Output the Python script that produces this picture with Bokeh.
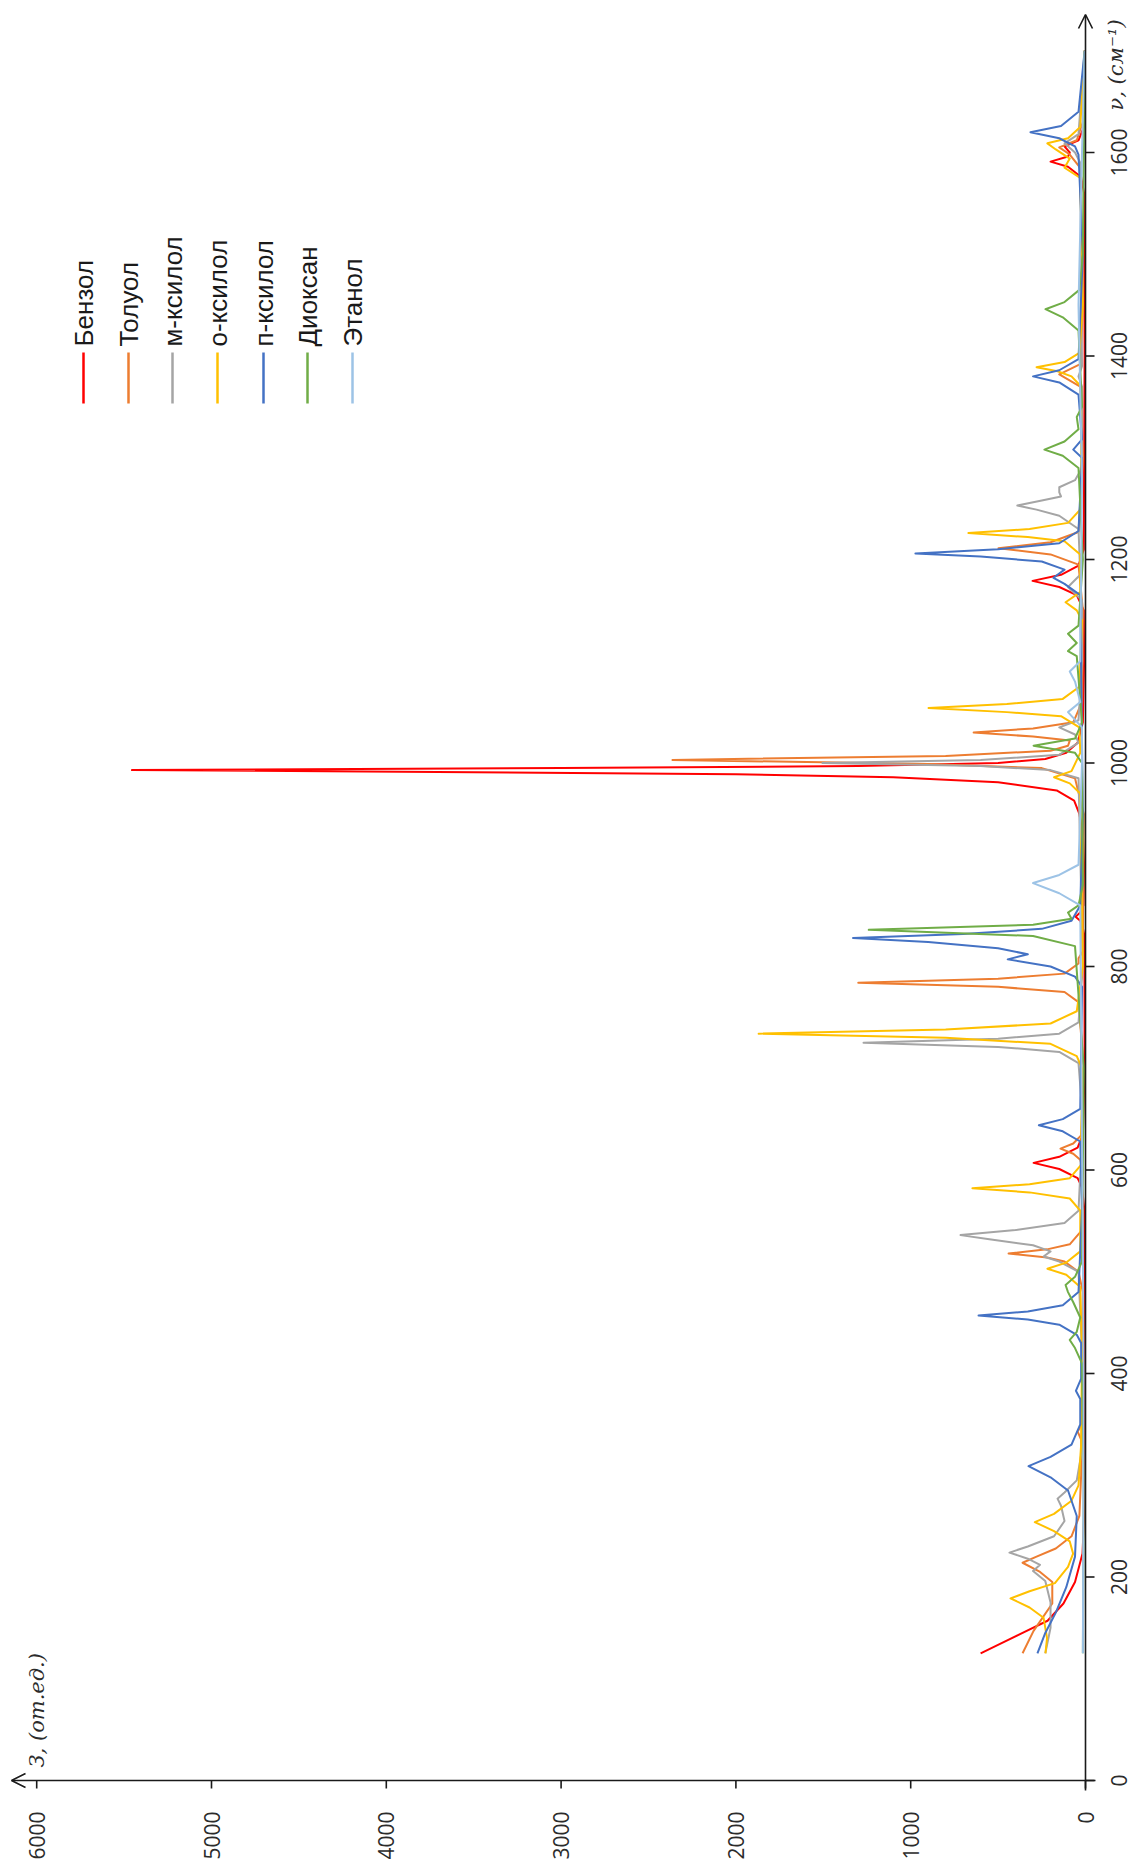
import math
from bokeh.plotting import figure
from bokeh.models import Range1d, Arrow, OpenHead
from bokeh.core.properties import value
from bokeh.embed import file_html
from bokeh.resources import INLINE

# Raman spectra: (wavenumber cm^-1, intensity a.u.) vertices per solvent
BENZOL = [(125, 600), (135, 480), (145, 360), (157, 217), (174, 126), (195, 60), (223, 17), (260, 8),
          (400, 5), (560, 6), (583, 20), (592, 45), (601, 150), (607, 297), (613, 150), (622, 45),
          (635, 15), (700, 5), (830, 6), (838, 15), (845, 30), (849, 57), (853, 30), (860, 12),
          (900, 8), (930, 15), (950, 35), (963, 65), (973, 165), (981, 500), (986, 1100), (989, 2000),
          (991, 3500), (993, 5455), (995, 3000), (997, 1300), (1000, 500), (1004, 230), (1010, 110),
          (1020, 45), (1040, 15), (1100, 8), (1150, 10), (1165, 50), (1173, 150), (1179, 303),
          (1185, 140), (1194, 40), (1210, 10), (1400, 5), (1560, 8), (1576, 25), (1586, 100),
          (1591, 200), (1596, 100), (1600, 90), (1606, 120), (1612, 40), (1625, 10), (1700, 5)]

TOLUOL = [(125, 360), (147, 297), (174, 190), (195, 190), (205, 260), (214, 360), (220, 280), (228, 170),
          (240, 80), (260, 35), (300, 25), (335, 25), (343, 45), (350, 20), (480, 15), (500, 40),
          (510, 120), (514, 220), (518, 440), (522, 220), (527, 90), (540, 25), (600, 15), (610, 30),
          (616, 70), (621, 143), (626, 70), (634, 25), (700, 10), (765, 40), (775, 120), (780, 500),
          (784, 1300), (788, 500), (793, 120), (803, 40), (808, 40), (815, 15), (950, 10), (985, 60),
          (995, 250), (999, 900), (1003, 2363), (1007, 800), (1012, 200), (1017, 100), (1022, 90),
          (1026, 300), (1030, 640), (1034, 300), (1040, 70), (1060, 20), (1150, 15), (1195, 40),
          (1205, 200), (1211, 498), (1217, 200), (1227, 40), (1300, 15), (1370, 30), (1382, 150),
          (1392, 30), (1450, 15), (1585, 30), (1598, 90), (1605, 150), (1612, 50), (1630, 15), (1700, 5)]

M_KSILOL = [(125, 230), (150, 200), (175, 200), (196, 230), (206, 300), (212, 260), (218, 330), (224, 435),
            (230, 330), (240, 180), (255, 120), (270, 140), (277, 160), (283, 120), (295, 50), (320, 25),
            (400, 15), (500, 40), (510, 150), (515, 240), (520, 200), (526, 300), (532, 550), (536, 715),
            (541, 400), (548, 120), (560, 40), (650, 15), (705, 40), (716, 150), (721, 500), (725, 1270),
            (729, 500), (734, 150), (745, 40), (800, 15), (985, 40), (993, 200), (997, 600), (1000, 1505),
            (1003, 600), (1008, 150), (1020, 40), (1028, 60), (1035, 150), (1042, 40), (1100, 20),
            (1160, 20), (1173, 100), (1185, 30), (1230, 40), (1243, 150), (1249, 280), (1253, 390),
            (1258, 250), (1262, 140), (1266, 150), (1271, 150), (1278, 60), (1290, 20), (1370, 20),
            (1380, 40), (1390, 20), (1590, 30), (1600, 60), (1609, 120), (1618, 40), (1700, 5)]

O_KSILOL = [(125, 229), (140, 220), (160, 240), (170, 320), (179, 429), (186, 320), (194, 175), (210, 100),
            (223, 71), (235, 90), (245, 180), (254, 290), (262, 180), (275, 80), (290, 40), (330, 25),
            (420, 20), (485, 30), (497, 110), (503, 218), (509, 110), (520, 30), (560, 30), (572, 90),
            (578, 320), (582, 647), (586, 320), (592, 90), (605, 25), (700, 20), (712, 50), (724, 200),
            (730, 800), (734, 1870), (738, 800), (744, 200), (756, 50), (800, 15), (970, 30), (980, 90),
            (986, 180), (992, 80), (1010, 30), (1035, 35), (1046, 140), (1050, 450), (1054, 898),
            (1058, 450), (1063, 130), (1075, 35), (1140, 20), (1150, 50), (1158, 114), (1168, 30),
            (1205, 30), (1218, 120), (1222, 330), (1226, 670), (1230, 320), (1236, 100), (1250, 25),
            (1370, 25), (1380, 80), (1385, 160), (1389, 280), (1394, 120), (1403, 35), (1450, 15),
            (1575, 30), (1585, 120), (1594, 90), (1603, 170), (1609, 218), (1614, 100), (1625, 30), (1700, 5)]

P_KSILOL = [(125, 275), (145, 230), (165, 170), (190, 110), (220, 60), (260, 50), (285, 100), (298, 200),
            (309, 326), (318, 200), (330, 80), (350, 30), (375, 30), (383, 55), (395, 25), (430, 25),
            (438, 50), (448, 150), (453, 330), (457, 612), (461, 330), (467, 130), (480, 40), (560, 20),
            (628, 30), (638, 130), (644, 267), (650, 130), (660, 30), (780, 20), (790, 60), (800, 200),
            (807, 445), (812, 330), (818, 500), (824, 900), (828, 1330), (832, 700), (837, 250), (845, 80),
            (860, 30), (950, 15), (1165, 30), (1176, 120), (1182, 183), (1190, 120), (1198, 250),
            (1203, 600), (1206, 973), (1210, 500), (1216, 150), (1228, 40), (1300, 20), (1308, 70),
            (1318, 20), (1362, 40), (1374, 150), (1380, 300), (1386, 150), (1397, 40), (1500, 15),
            (1598, 40), (1606, 60), (1614, 150), (1620, 315), (1626, 140), (1640, 40), (1700, 5)]

DIOKSAN = [(125, 15), (300, 10), (410, 20), (425, 60), (433, 90), (441, 50), (455, 30), (470, 70),
           (480, 100), (487, 114), (495, 60), (510, 20), (700, 10), (820, 60), (830, 300), (836, 1240),
           (841, 300), (847, 80), (853, 100), (860, 40), (880, 15), (1000, 20), (1010, 60), (1017, 297),
           (1024, 60), (1040, 20), (1105, 50), (1110, 100), (1118, 50), (1127, 100), (1135, 40),
           (1200, 15), (1290, 40), (1302, 130), (1308, 235), (1316, 120), (1328, 40), (1340, 50),
           (1350, 20), (1425, 40), (1438, 130), (1446, 229), (1453, 120), (1465, 35), (1500, 15), (1700, 5)]

ETANOL = [(125, 15), (400, 10), (860, 30), (872, 150), (882, 300), (890, 150), (900, 40), (1000, 20),
          (1035, 20), (1050, 100), (1060, 30), (1080, 60), (1090, 90), (1100, 30), (1280, 20),
          (1450, 40), (1600, 20), (1700, 5)]

NAMES = ["Бензол", "Толуол", "м-ксилол", "о-ксилол", "п-ксилол", "Диоксан", "Этанол"]
SERIES = [BENZOL, TOLUOL, M_KSILOL, O_KSILOL, P_KSILOL, DIOKSAN, ETANOL]
COLORS = ["#FF0000", "#ED7D31", "#A5A5A5", "#FFC000", "#4472C4", "#70AD47", "#9DC3E6"]

INTENSITY_TICKS = [0, 1000, 2000, 3000, 4000, 5000, 6000]
WAVENUMBER_TICKS = [0, 200, 400, 600, 800, 1000, 1200, 1400, 1600]

W, H = 1131, 1865
# canvas layout: intensity axis runs right-to-left, wavenumber bottom-to-top
X_ZERO, X_SCALE = 1085.0, 0.1748   # px of intensity 0, px per unit
Y_ZERO, Y_SCALE = 1780.0, 1.0175   # px of wavenumber 0, px per cm^-1


def ix(px):
    return (X_ZERO - px) / X_SCALE


def ny(py):
    return (Y_ZERO - py) / Y_SCALE


p = figure(width=W, height=H, output_backend="svg", toolbar_location=None,
           x_range=Range1d(ix(0), ix(W)), y_range=Range1d(ny(H), ny(0)),
           x_axis_location=None, y_axis_location=None, min_border=0)
p.grid.visible = False
p.outline_line_color = None
p.background_fill_color = "white"
p.border_fill_color = "white"

AX = "#1a1a1a"

for pts, col in zip(SERIES, COLORS):
    nu = [a for a, b in pts]
    inten = [b for a, b in pts]
    p.line(inten, nu, line_color=col, line_width=2, line_join="round")

# axes with open arrowheads
p.add_layout(Arrow(end=OpenHead(size=14, line_width=1.6, line_color=AX),
                   x_start=ix(1095), y_start=0, x_end=ix(11), y_end=0,
                   line_width=1.6, line_color=AX))
p.add_layout(Arrow(end=OpenHead(size=14, line_width=1.6, line_color=AX),
                   x_start=0, y_start=ny(1790), x_end=0, y_end=ny(14),
                   line_width=1.6, line_color=AX))

# tick marks
p.segment(x0=INTENSITY_TICKS, y0=[0] * len(INTENSITY_TICKS),
          x1=INTENSITY_TICKS, y1=[ny(Y_ZERO + 8)] * len(INTENSITY_TICKS),
          line_color=AX, line_width=1.6)
p.segment(x0=[0] * len(WAVENUMBER_TICKS), y0=WAVENUMBER_TICKS,
          x1=[ix(X_ZERO + 9)] * len(WAVENUMBER_TICKS), y1=WAVENUMBER_TICKS,
          line_color=AX, line_width=1.6)

TICK_FONT = value("Open Sans")
TXT = "#2b2b2b"
p.text(x=INTENSITY_TICKS, y=[ny(1811)] * len(INTENSITY_TICKS),
       text=[str(v) for v in INTENSITY_TICKS], angle=math.pi / 2,
       text_align="right", text_baseline="middle", text_font=TICK_FONT,
       text_font_size="21px", text_color=TXT)
p.text(x=[ix(1118)] * len(WAVENUMBER_TICKS), y=WAVENUMBER_TICKS,
       text=[str(v) for v in WAVENUMBER_TICKS], angle=math.pi / 2,
       text_align="center", text_baseline="middle", text_font=TICK_FONT,
       text_font_size="21px", text_color=TXT)

# axis titles
p.text(x=[ix(1115)], y=[ny(110)], text=["ν, (см⁻¹)"], angle=math.pi / 2,
       text_align="left", text_baseline="middle", text_font=value("DejaVu Serif"),
       text_font_style="italic", text_font_size="21px", text_color=TXT)
p.text(x=[ix(36)], y=[ny(1767)], text=["З, (от.ед.)"], angle=math.pi / 2,
       text_align="left", text_baseline="middle", text_font=value("DejaVu Serif"),
       text_font_style="italic", text_font_size="21px", text_color=TXT)

# legend
LEG_X = [83, 128, 172, 217, 263, 307, 352]
for px, name, col in zip(LEG_X, NAMES, COLORS):
    p.segment(x0=[ix(px)], y0=[ny(352)], x1=[ix(px)], y1=[ny(403)],
              line_color=col, line_width=2.5)
    p.text(x=[ix(px)], y=[ny(346)], text=[name], angle=math.pi / 2,
           text_align="left", text_baseline="middle",
           text_font=value("Liberation Sans"), text_font_size="26px", text_color="#1a1a1a")

open("out.html", "w").write(file_html(p, INLINE))
